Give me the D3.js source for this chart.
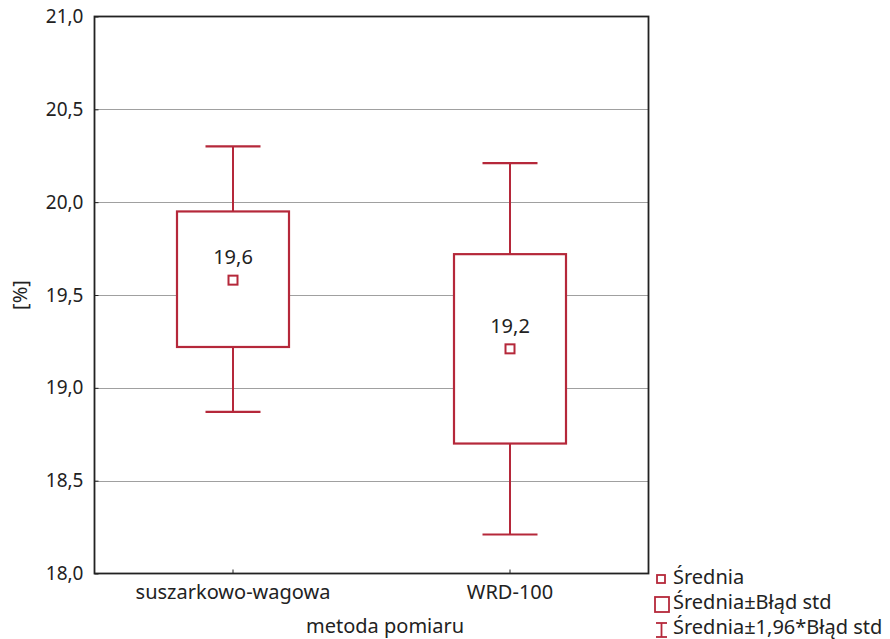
<!DOCTYPE html>
<html>
<head>
<meta charset="utf-8">
<script src="https://cdn.jsdelivr.net/npm/d3@7"></script>
<style>
  html, body { margin: 0; padding: 0; background: #fff; }
  svg { display: block; }
  text { font-family: "Noto Sans", "Open Sans", sans-serif; fill: #222; }
</style>
</head>
<body>
<svg id="chart" width="890" height="639"></svg>
<script>
// Measurement methods and moisture statistics (%)
const categories = ["suszarkowo-wagowa", "WRD-100"];
const means = [19.58, 19.21];
const meanLabels = ["19,6", "19,2"];
const seLow = [19.22, 18.70];
const seHigh = [19.95, 19.72];
const ciLow = [18.87, 18.21];
const ciHigh = [20.30, 20.21];
const yTicks = [18.0, 18.5, 19.0, 19.5, 20.0, 20.5, 21.0];
const legendItems = ["Średnia", "Średnia±Błąd std", "Średnia±1,96*Błąd std"];

const data = categories.map((c, i) => ({
  cat: c, mean: means[i], label: meanLabels[i],
  seLo: seLow[i], seHi: seHigh[i], ciLo: ciLow[i], ciHi: ciHigh[i]
}));

const red = "#b5283a";
const fs = 20;
const svg = d3.select("#chart");
const m = { left: 94.5, top: 16.5, right: 648.5, bottom: 573.5 };

const x = d3.scaleBand().domain(categories).range([m.left, m.right]).paddingInner(0).paddingOuter(0);
const y = d3.scaleLinear().domain([18, 21]).range([m.bottom, m.top]);
const fmt = d => d3.format(".1f")(d).replace(".", ",");

// Horizontal grid lines
svg.append("g").selectAll("line").data(yTicks.slice(1, -1)).join("line")
  .attr("x1", m.left).attr("x2", m.right)
  .attr("y1", d => Math.round(y(d)) + 0.5).attr("y2", d => Math.round(y(d)) + 0.5)
  .attr("stroke", "#a0a0a0").attr("stroke-width", 1.2);

// Y axis with labels
const yAxis = svg.append("g").attr("transform", `translate(${m.left},0)`)
  .call(d3.axisLeft(y).tickValues(yTicks).tickFormat(fmt).tickSize(-4).tickPadding(11));
yAxis.select(".domain").remove();
yAxis.selectAll(".tick line").attr("stroke", "#222");
yAxis.selectAll(".tick text").attr("font-size", 19).attr("fill", "#222")
  .attr("font-family", "Noto Sans, Open Sans, sans-serif");

// X axis
const xAxis = svg.append("g").attr("transform", `translate(0,${m.bottom})`)
  .call(d3.axisBottom(x).tickSize(-4).tickPadding(11));
xAxis.select(".domain").remove();
xAxis.selectAll(".tick line").attr("stroke", "#222");
xAxis.selectAll(".tick text").attr("font-size", fs).attr("fill", "#222")
  .attr("font-family", "Noto Sans, Open Sans, sans-serif");

const cx = d => x(d.cat) + x.bandwidth() / 2;
const boxW = 112, capW = 55, mk = 9;

const g = svg.append("g").selectAll("g").data(data).join("g");

// whiskers (±1,96 SE)
g.append("line").attr("x1", cx).attr("x2", cx)
  .attr("y1", d => y(d.ciHi)).attr("y2", d => y(d.ciLo))
  .attr("stroke", red).attr("stroke-width", 2);
g.append("line").attr("x1", d => cx(d) - capW / 2).attr("x2", d => cx(d) + capW / 2)
  .attr("y1", d => y(d.ciHi)).attr("y2", d => y(d.ciHi))
  .attr("stroke", red).attr("stroke-width", 2.2);
g.append("line").attr("x1", d => cx(d) - capW / 2).attr("x2", d => cx(d) + capW / 2)
  .attr("y1", d => y(d.ciLo)).attr("y2", d => y(d.ciLo))
  .attr("stroke", red).attr("stroke-width", 2.2);

// boxes (±SE)
g.append("rect").attr("x", d => cx(d) - boxW / 2).attr("width", boxW)
  .attr("y", d => y(d.seHi)).attr("height", d => y(d.seLo) - y(d.seHi))
  .attr("fill", "#fff").attr("stroke", red).attr("stroke-width", 2.2);

// mean markers
g.append("rect").attr("x", d => cx(d) - mk / 2).attr("y", d => y(d.mean) - mk / 2)
  .attr("width", mk).attr("height", mk)
  .attr("fill", "#fff").attr("stroke", red).attr("stroke-width", 2);

// mean labels
g.append("text").attr("x", cx).attr("y", d => y(d.mean) - 16)
  .attr("text-anchor", "middle").attr("font-size", fs).text(d => d.label);

// plot frame
svg.append("rect").attr("x", m.left).attr("y", m.top)
  .attr("width", m.right - m.left).attr("height", m.bottom - m.top)
  .attr("fill", "none").attr("stroke", "#222").attr("stroke-width", 1.8);

// axis titles
svg.append("text").attr("x", 306).attr("y", 633)
  .attr("text-anchor", "start").attr("font-size", fs).text("metoda pomiaru");
svg.append("text").attr("transform", `translate(27,${(m.top + m.bottom) / 2}) rotate(-90)`)
  .attr("text-anchor", "middle").attr("font-size", fs).text("[%]");

// legend
const lg = svg.append("g").attr("transform", "translate(654,576)");
const rows = lg.selectAll("g").data(legendItems).join("g")
  .attr("transform", (d, i) => `translate(0,${i * 25})`);
rows.append("text").attr("x", 19).attr("y", 8).attr("font-size", fs).text(d => d);
// marker symbols
lg.append("rect").attr("x", 3).attr("y", -1).attr("width", 8).attr("height", 8)
  .attr("fill", "#fff").attr("stroke", red).attr("stroke-width", 1.8);
lg.append("rect").attr("x", 1).attr("y", 21).attr("width", 14).attr("height", 15)
  .attr("fill", "#fff").attr("stroke", red).attr("stroke-width", 1.8);
const w = lg.append("g").attr("stroke", red).attr("stroke-width", 1.8);
w.append("line").attr("x1", 2).attr("x2", 13).attr("y1", 47).attr("y2", 47);
w.append("line").attr("x1", 2).attr("x2", 13).attr("y1", 61).attr("y2", 61);
w.append("line").attr("x1", 7.5).attr("x2", 7.5).attr("y1", 47).attr("y2", 61);
</script>
</body>
</html>
